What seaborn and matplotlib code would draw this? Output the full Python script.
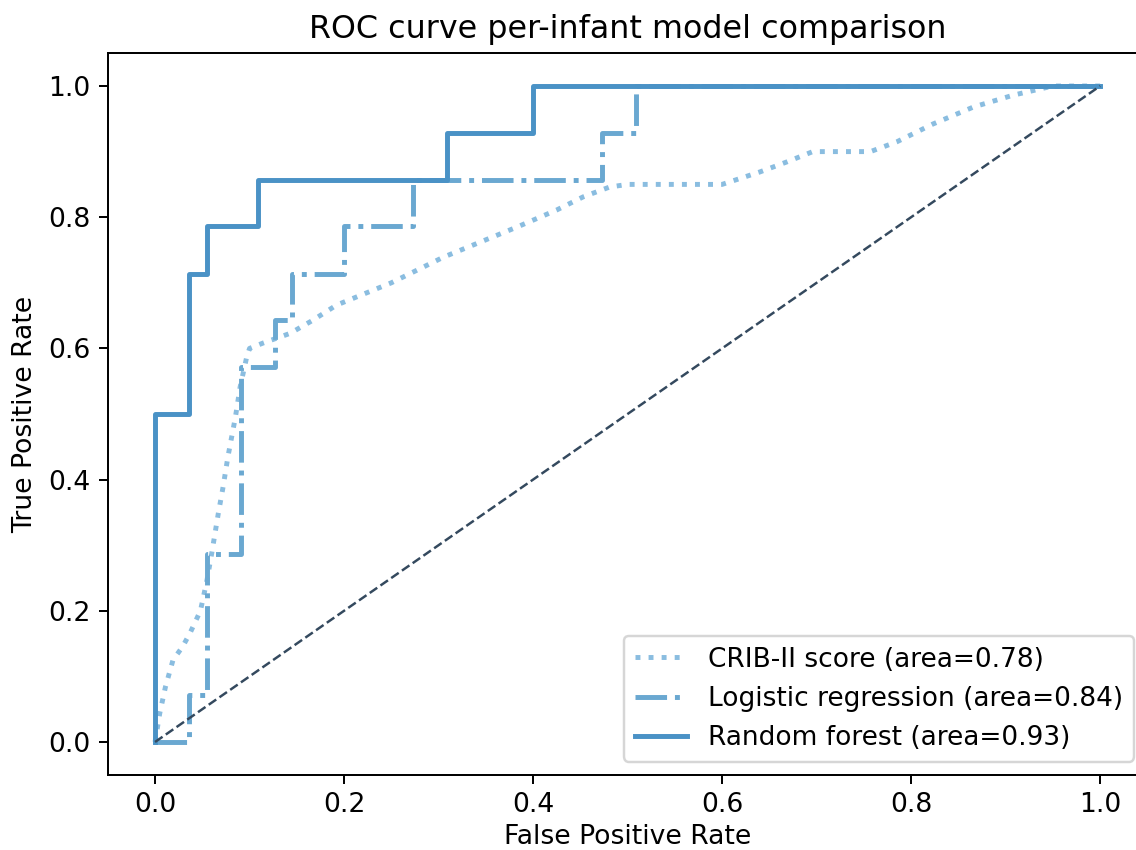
"""ROC curve comparison of per-infant models (CRIB-II, logistic regression, random forest)."""

import matplotlib
matplotlib.use("Agg")
import matplotlib.pyplot as plt
import seaborn as sns

# ROC points
crib_fpr = [0.0, 0.005, 0.011, 0.019, 0.029, 0.037, 0.048, 0.055, 0.06, 0.067, 0.072,
            0.077, 0.085, 0.09, 0.097, 0.1, 0.114, 0.143, 0.167, 0.192, 0.25, 0.305,
            0.344, 0.383, 0.425, 0.453, 0.481, 0.5, 0.6, 0.64, 0.668, 0.696, 0.757,
            0.785, 0.823, 0.866, 0.908, 0.95, 1.0]
crib_tpr = [0.0, 0.044, 0.084, 0.125, 0.145, 0.166, 0.2, 0.247, 0.288, 0.349, 0.389,
            0.434, 0.495, 0.541, 0.587, 0.6, 0.608, 0.623, 0.643, 0.666, 0.7, 0.739,
            0.762, 0.785, 0.811, 0.831, 0.846, 0.85, 0.85, 0.869, 0.884, 0.9, 0.9,
            0.915, 0.942, 0.968, 0.986, 1.0, 1.0]

logreg_fpr = [0.0, 0.0, 0.036, 0.036, 0.055, 0.055, 0.091, 0.091, 0.127, 0.127, 0.145,
              0.145, 0.2, 0.2, 0.273, 0.273, 0.473, 0.473, 0.509, 0.509, 1.0]
logreg_tpr = [0.0, 0.0, 0.0, 0.071, 0.071, 0.286, 0.286, 0.571, 0.571, 0.643, 0.643,
              0.714, 0.714, 0.786, 0.786, 0.857, 0.857, 0.929, 0.929, 1.0, 1.0]

rf_fpr = [0.0, 0.0, 0.036, 0.036, 0.055, 0.055, 0.109, 0.109, 0.309, 0.309, 0.4, 0.4, 1.0]
rf_tpr = [0.0, 0.5, 0.5, 0.714, 0.714, 0.786, 0.786, 0.857, 0.857, 0.929, 0.929, 1.0, 1.0]

chance = [0.0, 1.0]

labels = ["CRIB-II score (area=0.78)",
          "Logistic regression (area=0.84)",
          "Random forest (area=0.93)"]

fig = plt.figure(figsize=(6.4, 850 / 177.5), dpi=177.5)
ax = fig.add_axes([0.0949, 0.0885, 0.9151, 0.8489])

sns.lineplot(x=crib_fpr, y=crib_tpr, sort=False, estimator=None, ax=ax,
             color="#8abde0", linestyle=":", lw=2, label=labels[0])
sns.lineplot(x=logreg_fpr, y=logreg_tpr, sort=False, estimator=None, ax=ax,
             color="#6aa8d1", linestyle="-.", lw=2, label=labels[1])
sns.lineplot(x=rf_fpr, y=rf_tpr, sort=False, estimator=None, ax=ax,
             color="#4a92c6", linestyle="-", lw=2, label=labels[2])
ax.plot(chance, chance, color="#34495e", linestyle="--", lw=1)

ax.set_xlim(-0.05, 1.05)
ax.set_ylim(-0.05, 1.05)
ax.set_xticks([0.0, 0.2, 0.4, 0.6, 0.8, 1.0])
ax.set_yticks([0.0, 0.2, 0.4, 0.6, 0.8, 1.0])
ax.tick_params(labelsize=10.8)
ax.set_xlabel("False Positive Rate", fontsize=10.8, labelpad=2.5)
ax.set_ylabel("True Positive Rate", fontsize=10.8)
ax.set_title("ROC curve per-infant model comparison", fontsize=12.9)
ax.legend(loc="lower right", fontsize=10.7)

fig.savefig("out.png", dpi=177.5)
plt.close(fig)
